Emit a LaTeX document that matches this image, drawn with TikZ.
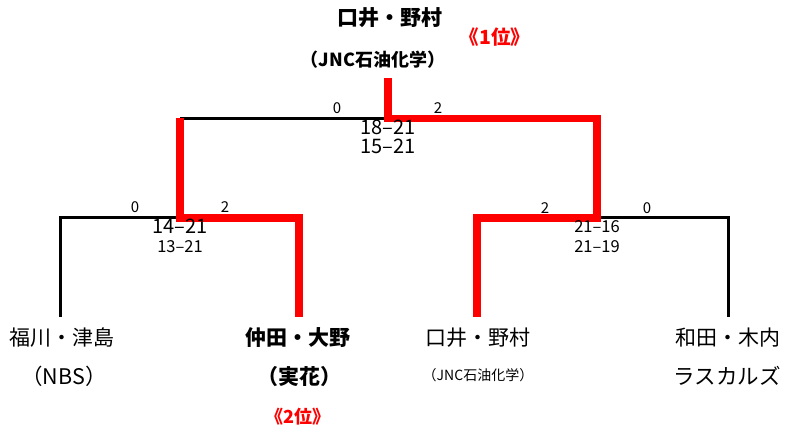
\documentclass[tikz,border=0pt]{standalone}
\usepackage{fontspec}
\setmainfont{Noto Sans CJK JP}
\newcommand\fsz[1]{\fontsize{#1}{#1}\selectfont}
\tikzset{
  lbl/.style={inner sep=0pt, anchor=base},
  win/.style={draw={rgb,255:red,255;green,0;blue,0}, line width=7.5pt, line join=miter, line cap=butt},
  lose/.style={draw=black, line width=3pt, line join=miter, line cap=butt},
  rank/.style={lbl, text={rgb,255:red,255;green,0;blue,0}, font=\bfseries},
}
\begin{document}
\begin{tikzpicture}[x=1pt,y=-1pt]
\useasboundingbox[fill=white] (0,0) rectangle (789,430);
% bracket points
\coordinate (champ) at (388,78);
\coordinate (fT) at (388,118.5);
\coordinate (fL) at (180,118.5);
\coordinate (fR) at (597,118.5);
\coordinate (sLm) at (180,218);
\coordinate (sLa) at (60,218);
\coordinate (sLb) at (299,218);
\coordinate (sRm) at (597,218);
\coordinate (sRa) at (477,218);
\coordinate (sRb) at (728,218);
\coordinate (pA) at (60,317);
\coordinate (pB) at (299,317);
\coordinate (pC) at (477,317);
\coordinate (pD) at (728,317);
% losing lines
\draw[lose] (fL) -- (fT);
\draw[lose] (pA) -- (sLa) -- (sLm);
\draw[lose] (sRm) -- (sRb) -- (pD);
% winning lines
\draw[win] (champ) -- (fT) -- (fR) -- (sRm) -- (sRa) -- (pC);
\draw[win] (fL) -- (sLm) -- (sLb) -- (pB);
% top
\node[lbl, font=\bfseries\fsz{21pt}] (wname) at (390,25.8) {口井・野村};
\node[lbl, font=\bfseries\fsz{18pt}] (wteam) at (373,66.5) {（JNC石油化学）};
\node[rank, font=\bfseries\fsz{19.5pt}] (r1) at (495,45) {《1位》};
% final scores
\node[lbl, font=\fsz{15pt}] (fs0) at (337,113.5) {0};
\node[lbl, font=\fsz{15pt}] (fs2) at (438,113.5) {2};
\node[lbl, font=\fsz{20pt}] (fg1) at (388,135) {18‒21};
\node[lbl, font=\fsz{20pt}] (fg2) at (388,154) {15‒21};
% left semi
\node[lbl, font=\fsz{15pt}] (ls0) at (135,212.5) {0};
\node[lbl, font=\fsz{15pt}] (ls2) at (225,212.5) {2};
\node[lbl, font=\fsz{20pt}] (lg1) at (180,234) {14‒21};
\node[lbl, font=\fsz{16.5pt}] (lg2) at (180,253) {13‒21};
% right semi
\node[lbl, font=\fsz{15pt}] (rs2) at (545,213.5) {2};
\node[lbl, font=\fsz{15pt}] (rs0) at (647,213.5) {0};
\node[lbl, font=\fsz{16.5pt}] (rg1) at (597,233) {21‒16};
\node[lbl, font=\fsz{16.5pt}] (rg2) at (597,253) {21‒19};
% players
\node[lbl, font=\fsz{21pt}] (nA) at (62,345) {福川・津島};
\node[lbl, font=\fsz{21.5pt}] (tA) at (64,384) {（NBS）};
\node[lbl, font=\bfseries\fsz{21pt}] (nB) at (298,345) {仲田・大野};
\node[lbl, font=\bfseries\fsz{21pt}] (tB) at (299,384) {（実花）};
\node[rank, font=\bfseries\fsz{18pt}] (r2) at (298,423.5) {《2位》};
\node[lbl, font=\fsz{21pt}] (nC) at (478,345) {口井・野村};
\node[lbl, font=\fsz{14pt}] (tC) at (478,380.5) {（JNC石油化学）};
\node[lbl, font=\fsz{21pt}] (nD) at (728,345) {和田・木内};
\node[lbl, font=\fsz{21.5pt}] (tD) at (727,384) {ラスカルズ};
\end{tikzpicture}
\end{document}
